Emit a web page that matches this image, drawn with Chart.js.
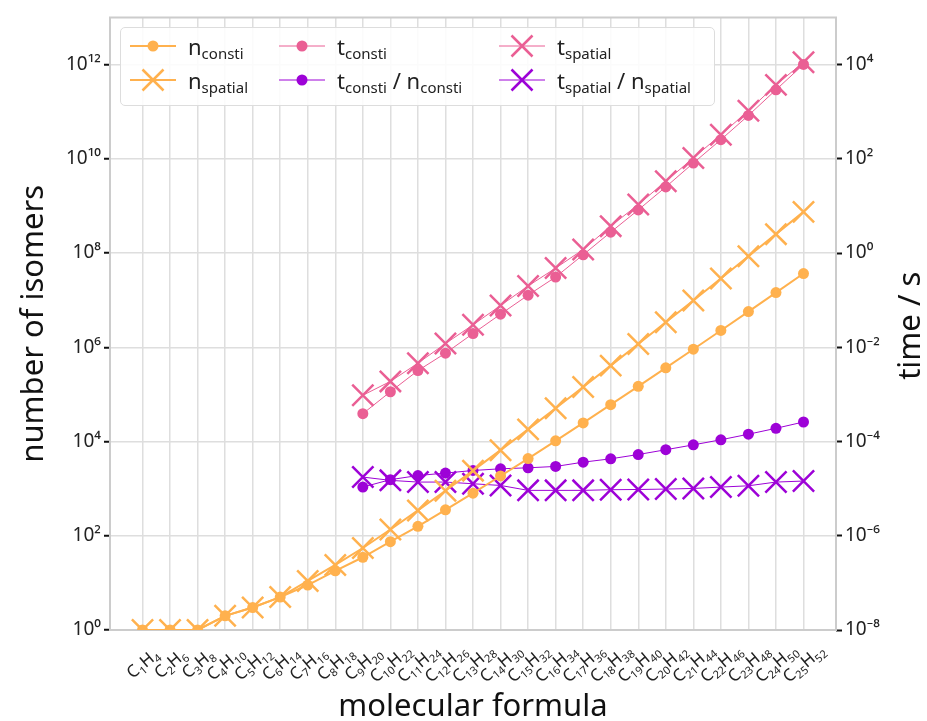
<!DOCTYPE html>
<html>
<head>
<meta charset="utf-8">
<script src="https://cdn.jsdelivr.net/npm/chart.js@4.4.1/dist/chart.umd.min.js"></script>
<style>
  html, body { margin: 0; padding: 0; background: #fff; }
  #wrap { position: relative; width: 927px; height: 721px; }
  #legend {
    position: absolute; left: 120px; top: 27px; width: 595px; height: 79px;
    box-sizing: border-box; border: 1.5px solid #ddd; border-radius: 5px;
    background: rgba(255,255,255,0.88); font-family: 'Noto Sans', sans-serif; color: #222;
  }
  .item { position: absolute; display: flex; align-items: center; height: 30px; white-space: nowrap; }
  .item svg { margin-right: 12px; flex: none; }
  .item .lbl { font-size: 22px; line-height: 30px; }
  .item sub { font-size: 15px; vertical-align: -4px; line-height: 0; }
</style>
</head>
<body>
<div id="wrap">
  <canvas id="chart" width="927" height="721"></canvas>
  <div id="legend"></div>
</div>
<script>
'use strict';

const formulas = ['C1H4','C2H6','C3H8','C4H10','C5H12','C6H14','C7H16','C8H18','C9H20','C10H22',
  'C11H24','C12H26','C13H28','C14H30','C15H32','C16H34','C17H36','C18H38','C19H40','C20H42',
  'C21H44','C22H46','C23H48','C24H50','C25H52'];

// number of isomers (left axis)
const nConsti = [1, 1, 1, 2, 3, 5, 9, 18, 35, 75, 159, 355, 802, 1858, 4347, 10359, 24894, 60523,
  148284, 366319, 910726, 2278658, 5731580, 14490245, 36797588];
const nSpatial = [1, 1, 1, 2, 3, 5, 11, 24, 55, 136, 345, 900, 2412, 6563, 18127, 50699, 143255,
  408429, 1173770, 3396844, 9892302, 28972080, 85289390, 252260276, 749329719];

// time / s (right axis)
const tConsti = [null, null, null, null, null, null, null, null,
  3.9e-4, 1.14e-3, 3.2e-3, 7.5e-3, 0.0196, 0.0505, 0.128, 0.31, 0.92, 2.78, 8.24, 25.3, 81.5, 255, 834, 2917, 1.01e4];
const tSpatial = [null, null, null, null, null, null, null, null,
  9.6e-4, 1.89e-3, 4.6e-3, 0.012, 0.030, 0.077, 0.20, 0.48, 1.19, 3.73, 10.7, 33.4, 104, 325, 1047, 3715, 1.12e4];
const tConstiPerN = [null, null, null, null, null, null, null, null,
  1.08e-5, 1.55e-5, 1.9e-5, 2.14e-5, 2.43e-5, 2.64e-5, 2.77e-5, 2.96e-5, 3.65e-5, 4.3e-5, 5.3e-5,
  6.7e-5, 8.5e-5, 1.09e-4, 1.43e-4, 1.91e-4, 2.6e-4];
const tSpatialPerN = [null, null, null, null, null, null, null, null,
  1.76e-5, 1.50e-5, 1.38e-5, 1.38e-5, 1.27e-5, 1.17e-5, 9.2e-6, 9.2e-6, 9.2e-6, 9.5e-6, 9.6e-6,
  9.8e-6, 1.01e-5, 1.08e-5, 1.15e-5, 1.38e-5, 1.45e-5];

const leftTickExps = [0, 2, 4, 6, 8, 10, 12];
const rightTickExps = [-8, -6, -4, -2, 0, 2, 4];

const ORANGE = '#FFB14E', PINK = '#EA5F94', PURPLE = '#9D02D7';
const FONT = "'Noto Sans', sans-serif";

const SUP = {'0':'⁰','1':'¹','2':'²','3':'³','4':'⁴','5':'⁵','6':'⁶','7':'⁷','8':'⁸','9':'⁹','-':'⁻'};
const powLabel = v => '10' + String(Math.round(Math.log10(v))).split('').map(c => SUP[c]).join('');
const points = arr => arr.map((v, i) => ({x: i, y: v})).filter(p => p.y != null);

function series(label, data, color, style, width, axis) {
  const cross = style === 'crossRot';
  return {
    label, data: points(data), yAxisID: axis,
    borderColor: color, backgroundColor: color,
    borderWidth: width,
    pointStyle: style,
    pointRadius: cross ? 15 : 5.5,
    pointBorderWidth: cross ? 2.5 : 0,
    pointBorderColor: color,
    pointBackgroundColor: color,
    tension: 0,
  };
}

const frame = {
  id: 'frame',
  beforeDatasetsDraw(chart) {
    const {ctx, chartArea: a} = chart;
    ctx.save();
    ctx.strokeStyle = '#cccccc';
    ctx.lineWidth = 2;
    ctx.strokeRect(a.left, a.top, a.right - a.left, a.bottom - a.top);
    ctx.restore();
  },
};

// x labels with subscripts, and the right axis title read bottom-to-top
const extraText = {
  id: 'extraText',
  afterDraw(chart) {
    const {ctx, chartArea: a} = chart;
    const xs = chart.scales.x;
    const y0 = a.bottom + 33;
    ctx.save();
    ctx.fillStyle = '#222';
    formulas.forEach((f, i) => {
      const pieces = [];
      for (const m of f.matchAll(/([A-Z][a-z]?)(\d*)/g)) {
        pieces.push({t: m[1], size: 17, dy: 0});
        if (m[2]) pieces.push({t: m[2], size: 11, dy: 4});
      }
      let w = 0;
      pieces.forEach(p => { ctx.font = `${p.size}px ${FONT}`; p.w = ctx.measureText(p.t).width; w += p.w; });
      ctx.save();
      ctx.translate(xs.getPixelForValue(i), y0);
      ctx.rotate(-40 * Math.PI / 180);
      let x = -w / 2;
      pieces.forEach(p => { ctx.font = `${p.size}px ${FONT}`; ctx.fillText(p.t, x, 6 + p.dy); x += p.w; });
      ctx.restore();
    });

    ctx.fillStyle = '#111';
    ctx.font = `31px ${FONT}`;
    ctx.textAlign = 'center';
    ctx.textBaseline = 'middle';
    ctx.translate(911, (a.top + a.bottom) / 2 + 2);
    ctx.rotate(-Math.PI / 2);
    ctx.fillText('time / s', 0, 0);
    ctx.restore();
  },
};

new Chart(document.getElementById('chart'), {
  type: 'line',
  data: {
    datasets: [
      series('n_consti', nConsti, ORANGE, 'circle', 2, 'y'),
      series('n_spatial', nSpatial, ORANGE, 'crossRot', 2, 'y'),
      series('t_consti', tConsti, PINK, 'circle', 1, 'y1'),
      series('t_spatial', tSpatial, PINK, 'crossRot', 1, 'y1'),
      series('t_consti / n_consti', tConstiPerN, PURPLE, 'circle', 1, 'y1'),
      series('t_spatial / n_spatial', tSpatialPerN, PURPLE, 'crossRot', 1, 'y1'),
    ],
  },
  options: {
    responsive: false,
    animation: false,
    layout: { padding: { top: 15, right: 0, left: 0, bottom: 0 } },
    plugins: { legend: { display: false }, tooltip: { enabled: false } },
    scales: {
      x: {
        type: 'linear', min: -1.18, max: 25.18,
        afterBuildTicks: s => { s.ticks = formulas.map((_, i) => ({value: i})); },
        afterFit: s => { s.height = 91; },
        ticks: { display: false },
        grid: { color: '#dedede', lineWidth: 1.5, drawTicks: false },
        border: { display: false },
        title: { display: true, text: 'molecular formula', color: '#111',
          font: { family: FONT, size: 31 }, padding: { top: 0, bottom: -5 } },
      },
      y: {
        type: 'logarithmic', position: 'left', min: 1, max: 1e13,
        afterBuildTicks: s => { s.ticks = leftTickExps.map(e => ({value: 10 ** e})); },
        afterFit: s => { s.width = 110; },
        ticks: { callback: v => powLabel(v), color: '#222', padding: 3, font: { family: FONT, size: 19 } },
        grid: { color: '#dedede', lineWidth: 1.5, tickColor: '#111', tickLength: 6, tickWidth: 2 },
        border: { display: false },
        title: { display: true, text: 'number of isomers', color: '#111',
          font: { family: FONT, size: 31 }, padding: { top: 16, bottom: 0 } },
      },
      y1: {
        type: 'logarithmic', position: 'right', min: 1e-8, max: 1e5,
        afterBuildTicks: s => { s.ticks = rightTickExps.map(e => ({value: 10 ** e})); },
        afterFit: s => { s.width = 91; },
        ticks: { callback: v => powLabel(v), color: '#222', padding: 3, font: { family: FONT, size: 19 } },
        grid: { drawOnChartArea: false, tickColor: '#111', tickLength: 6, tickWidth: 2 },
        border: { display: false },
        title: { display: false },
      },
    },
  },
  plugins: [frame, extraText],
});

// legend with real subscripts
const legendItems = [
  {main: 'n', sub: 'consti', color: ORANGE, style: 'circle', w: 2, left: 9, top: 3},
  {main: 'n', sub: 'spatial', color: ORANGE, style: 'cross', w: 2, left: 9, top: 37},
  {main: 't', sub: 'consti', color: PINK, style: 'circle', w: 1, left: 158, top: 3},
  {main: 't', sub: 'consti', extra: ['n', 'consti'], color: PURPLE, style: 'circle', w: 1, left: 158, top: 37},
  {main: 't', sub: 'spatial', color: PINK, style: 'cross', w: 1, left: 378, top: 3},
  {main: 't', sub: 'spatial', extra: ['n', 'spatial'], color: PURPLE, style: 'cross', w: 1, left: 378, top: 37},
];

const legend = document.getElementById('legend');
legend.innerHTML = legendItems.map(it => {
  const marker = it.style === 'circle'
    ? `<circle cx="23" cy="15" r="5.5" fill="${it.color}"/>`
    : `<path d="M12.5 4.5 L33.5 25.5 M33.5 4.5 L12.5 25.5" stroke="${it.color}" stroke-width="2.5"/>`;
  const svg = `<svg width="46" height="30"><line x1="0" y1="15" x2="46" y2="15" stroke="${it.color}" stroke-width="${it.w}"/>${marker}</svg>`;
  let text = `${it.main}<sub>${it.sub}</sub>`;
  if (it.extra) text += ` / ${it.extra[0]}<sub>${it.extra[1]}</sub>`;
  return `<div class="item" style="left:${it.left}px;top:${it.top}px">${svg}<span class="lbl">${text}</span></div>`;
}).join('');
</script>
</body>
</html>
